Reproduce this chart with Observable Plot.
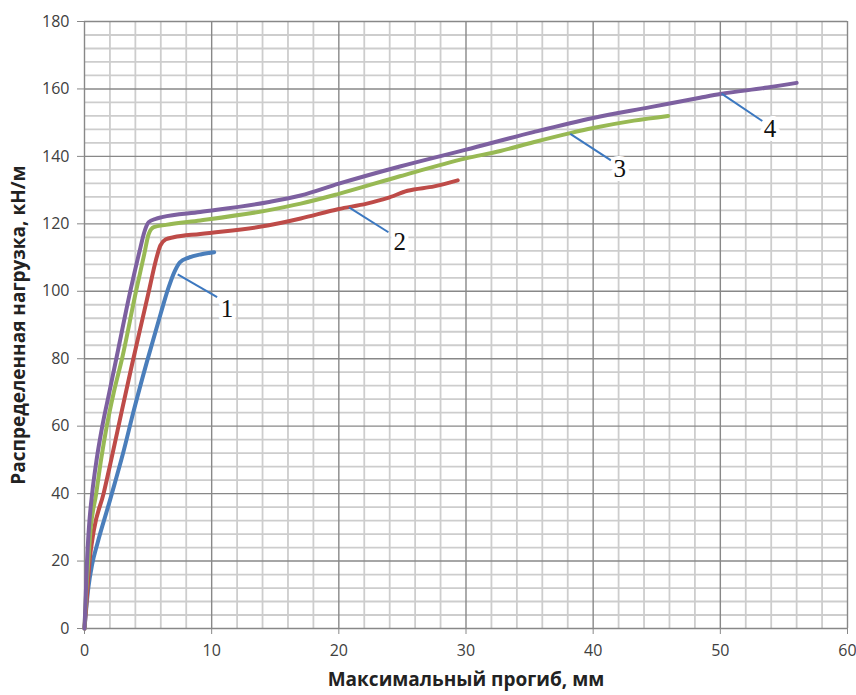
<!DOCTYPE html>
<html><head><meta charset="utf-8">
<script src="https://cdn.jsdelivr.net/npm/d3@7"></script>
<script src="https://cdn.jsdelivr.net/npm/@observablehq/plot@0.6"></script>
<style>body{margin:0;background:#fff}</style>
</head><body><div id="chart"></div>
<script>
const xTicks = [0, 10, 20, 30, 40, 50, 60];
const yTicks = [0, 20, 40, 60, 80, 100, 120, 140, 160, 180];
const xMinor = [2,4,6,8,12,14,16,18,22,24,26,28,32,34,36,38,42,44,46,48,52,54,56,58];
const yMinor = [4,8,12,16,24,28,32,36,44,48,52,56,64,68,72,76,84,88,92,96,104,108,112,116,124,128,132,136,144,148,152,156,164,168,172,176];

const xLabel = "Максимальный прогиб, мм";
const yLabel = "Распределенная нагрузка, кН/м";

// curve 1 (blue)
const c1x = [0, 0.3, 0.6, 1.0, 2.0, 3.0, 3.9, 4.9, 6.0, 6.6, 7.1, 7.5, 8.2, 9.2, 10.2];
const c1y = [0, 12, 19, 25, 38, 51.5, 65, 79, 93.5, 101, 106, 108.6, 110, 111, 111.6];
// curve 2 (red)
const c2x = [0, 0.2, 0.4, 0.73, 1.5, 2.1, 2.96, 3.75, 5.06, 5.6, 5.97, 6.4, 7, 9.1, 14.4, 17, 20, 22.2, 23.8, 25.4, 27.5, 29.35];
const c2y = [0, 10, 20, 29, 40, 50, 65, 78.5, 100, 109, 113.6, 115.4, 116, 117, 119.5, 121.6, 124.4, 126, 127.6, 129.8, 131.1, 132.9];
// curve 3 (green)
const c3x = [0, 0.12, 0.3, 0.47, 0.92, 1.3, 1.75, 2.3, 2.95, 4.05, 4.7, 5.05, 5.45, 6.4, 9.1, 14.4, 17, 20, 24.8, 30, 32.7, 35.3, 38.2, 40, 43.2, 45.9];
const c3y = [0, 10, 20, 29, 40, 50, 60, 70, 80, 100, 111, 117, 119, 119.7, 121, 124, 126, 128.9, 134.1, 139.4, 141.6, 144.2, 146.9, 148.4, 150.6, 152];
// curve 4 (purple)
const c4x = [0, 0.1, 0.2, 0.35, 0.6, 0.95, 1.4, 1.95, 2.5, 3.6, 4.4, 4.7, 5.05, 5.6, 6.1, 9.1, 14.4, 17, 20, 24.8, 30, 35.3, 40, 44.5, 48.4, 50, 53.7, 56];
const c4y = [0, 10, 20, 30, 40, 50, 60, 70, 80, 100, 113, 117.5, 120.5, 121.5, 122, 123.5, 126.4, 128.4, 131.9, 137, 142, 147.2, 151.4, 154.6, 157.4, 158.5, 160.4, 161.8];

const seriesNames = ["1", "2", "3", "4"];
const seriesColors = ["#4A7EBB", "#BE4B48", "#98B954", "#7D60A0"];

// leader lines and labels
const leadFromX = [7.33, 20.8, 38.2, 50.1];
const leadFromY = [105, 124.9, 146.7, 158.6];
const leadToX = [10.43, 23.9, 41.4, 53.3];
const leadToY = [98.3, 117.5, 138.8, 150.5];
const labelX = [11.2, 24.8, 42.1, 53.9];
const labelY = [94.8, 114.6, 136.3, 148.2];

const curvesX = [c1x, c2x, c3x, c4x];
const curvesY = [c1y, c2y, c3y, c4y];
const rows = [];
curvesX.forEach((xs, i) => xs.forEach((x, j) => rows.push({series: seriesNames[i], x, y: curvesY[i][j]})));
const leaders = seriesNames.map((s, i) => ({s, x1: leadFromX[i], y1: leadFromY[i], x2: leadToX[i], y2: leadToY[i], lx: labelX[i], ly: labelY[i]}));

const minorColor = "#cdcdcd";
const majorColor = "#888888";

const chart = Plot.plot({
  width: 856, height: 695,
  marginLeft: 84, marginRight: 9, marginTop: 21, marginBottom: 67,
  style: {fontFamily: "Open Sans", fontSize: "16px", color: "#404040", background: "#fff"},
  x: {domain: [0, 60]},
  y: {domain: [0, 180]},
  color: {domain: seriesNames, range: seriesColors},
  marks: [
    Plot.ruleX(xMinor, {stroke: minorColor, strokeWidth: 1.8}),
    Plot.ruleY(yMinor, {stroke: minorColor, strokeWidth: 1.8}),
    Plot.ruleX(xTicks, {stroke: majorColor, strokeWidth: 1.4}),
    Plot.ruleY(yTicks, {stroke: majorColor, strokeWidth: 1.4}),
    Plot.axisX({ticks: xTicks, tickSize: 6, tickPadding: 10, label: null, stroke: majorColor, tickFormat: d => String(d)}),
    Plot.axisY({ticks: yTicks, tickSize: 7, tickPadding: 8, label: null, stroke: majorColor, tickFormat: d => String(d)}),
    Plot.line(rows, {x: "x", y: "y", z: "series", stroke: "series", strokeWidth: 4, curve: "monotone-x", strokeLinejoin: "round", strokeLinecap: "round"}),
    Plot.link(leaders, {x1: "x1", y1: "y1", x2: "x2", y2: "y2", stroke: "#3C78C0", strokeWidth: 2}),
    Plot.text(leaders, {x: "lx", y: "ly", text: "s", fontFamily: "Liberation Serif", fontSize: 25, fill: "#111", stroke: "#fff", strokeWidth: 8, paintOrder: "stroke"}),
    Plot.text([xLabel], {frameAnchor: "bottom", dy: 57, fontWeight: "bold", fontSize: 19, fill: "#222"}),
    Plot.text([yLabel], {frameAnchor: "left", textAnchor: "middle", rotate: -90, dx: -66, fontWeight: "bold", fontSize: 19, fill: "#222"})
  ]
});
document.getElementById("chart").appendChild(chart);
</script>
</body></html>
